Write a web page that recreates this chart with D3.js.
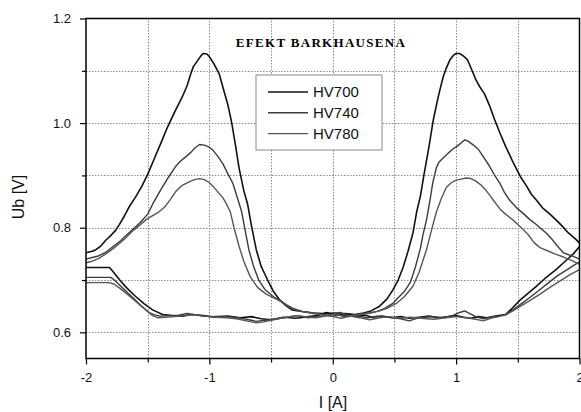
<!DOCTYPE html>
<html>
<head>
<meta charset="utf-8">
<script src="https://cdn.jsdelivr.net/npm/d3@7"></script>
<style>
  body { margin: 0; background: #fff; }
  svg { display: block; }
  text { font-family: "Liberation Sans", Arial, sans-serif; }
</style>
</head>
<body>
<svg id="chart"></svg>
<script>
var width = 581,
    height = 412;

// tick labels
var xTicks = [-2, -1, 0, 1, 2],
    xMinor = [-1.5, -0.5, 0.5, 1.5],
    yTicks = [0.6, 0.8, 1.0, 1.2],
    yMinor = [0.7, 0.9, 1.1];

var seriesNames = ["HV700", "HV740", "HV780"];

// branch A: peak near -1 A, branch B: peak near +1 A
var hv700A = [[-2.00,0.752],[-1.95,0.755],[-1.92,0.758],[-1.88,0.765],[-1.84,0.776],[-1.80,0.785],[-1.76,0.795],[-1.73,0.806],
  [-1.69,0.822],[-1.65,0.840],[-1.60,0.858],[-1.55,0.878],[-1.50,0.902],[-1.45,0.930],[-1.40,0.958],[-1.34,0.992],[-1.28,1.022],
  [-1.22,1.050],[-1.18,1.072],[-1.15,1.095],[-1.13,1.108],[-1.10,1.118],[-1.07,1.128],[-1.05,1.133],[-1.02,1.132],[-1.00,1.127],
  [-0.96,1.112],[-0.92,1.094],[-0.88,1.060],[-0.85,1.035],[-0.82,1.002],[-0.79,0.960],[-0.76,0.915],[-0.72,0.870],[-0.69,0.845],
  [-0.66,0.805],[-0.62,0.758],[-0.58,0.726],[-0.53,0.701],[-0.48,0.678],[-0.43,0.662],[-0.38,0.651],[-0.33,0.643],[-0.25,0.640],
  [-0.16,0.637],[-0.08,0.636],[0.03,0.637],[0.08,0.632],[0.14,0.634],[0.20,0.630],[0.26,0.633],[0.32,0.629],[0.40,0.631],
  [0.48,0.628],[0.55,0.630],[0.62,0.627],[0.70,0.629],[0.78,0.631],[0.86,0.628],[0.94,0.630],[1.00,0.632],[1.06,0.629],
  [1.12,0.627],[1.18,0.630],[1.25,0.628],[1.32,0.631],[1.40,0.634],[1.45,0.645],[1.52,0.662],[1.58,0.674],[1.65,0.688],
  [1.72,0.703],[1.81,0.720],[1.88,0.735],[1.95,0.750],[2.00,0.764]];

var hv700B = [[-2.00,0.724],[-1.90,0.724],[-1.81,0.724],[-1.78,0.716],[-1.73,0.701],[-1.67,0.685],[-1.60,0.669],[-1.53,0.655],
  [-1.46,0.643],[-1.38,0.634],[-1.30,0.632],[-1.22,0.631],[-1.14,0.634],[-1.05,0.632],[-0.95,0.629],[-0.85,0.631],[-0.75,0.628],
  [-0.66,0.630],[-0.58,0.626],[-0.50,0.624],[-0.40,0.629],[-0.30,0.627],[-0.20,0.630],[-0.12,0.632],[-0.05,0.638],[0.02,0.633],
  [0.10,0.636],[0.18,0.634],[0.25,0.637],[0.31,0.641],[0.38,0.650],[0.44,0.664],[0.49,0.682],[0.53,0.700],[0.57,0.724],
  [0.61,0.755],[0.65,0.790],[0.68,0.830],[0.71,0.860],[0.74,0.902],[0.78,0.955],[0.815,1.006],[0.85,1.045],[0.87,1.065],
  [0.896,1.089],[0.92,1.105],[0.95,1.121],[0.98,1.130],[1.00,1.133],[1.03,1.133],[1.06,1.128],[1.09,1.122],[1.13,1.100],
  [1.16,1.083],[1.19,1.070],[1.23,1.056],[1.27,1.034],[1.31,1.008],[1.355,0.981],[1.40,0.956],[1.46,0.926],[1.52,0.898],
  [1.57,0.880],[1.61,0.864],[1.65,0.853],[1.70,0.838],[1.76,0.826],[1.81,0.815],[1.86,0.803],[1.91,0.790],[1.96,0.780],[2.00,0.771]];

var hv740A = [[-2.00,0.740],[-1.95,0.743],[-1.90,0.746],[-1.84,0.753],[-1.78,0.764],[-1.72,0.775],[-1.68,0.784],[-1.62,0.797],
  [-1.56,0.810],[-1.50,0.826],[-1.46,0.845],[-1.42,0.862],[-1.38,0.878],[-1.33,0.897],[-1.28,0.915],[-1.24,0.926],[-1.19,0.936],
  [-1.15,0.944],[-1.12,0.952],[-1.08,0.959],[-1.04,0.958],[-1.00,0.954],[-0.97,0.948],[-0.93,0.936],[-0.89,0.922],[-0.85,0.903],
  [-0.81,0.885],[-0.77,0.855],[-0.74,0.832],[-0.71,0.795],[-0.68,0.758],[-0.64,0.725],[-0.60,0.700],[-0.55,0.682],[-0.48,0.668],
  [-0.43,0.661],[-0.37,0.652],[-0.32,0.646],[-0.25,0.640],[-0.16,0.637],[-0.08,0.634],[0.00,0.631],[0.06,0.633],[0.12,0.630],
  [0.20,0.632],[0.28,0.628],[0.36,0.631],[0.45,0.629],[0.55,0.626],[0.62,0.622],[0.70,0.628],[0.80,0.630],[0.90,0.628],
  [0.98,0.633],[1.03,0.638],[1.07,0.641],[1.11,0.636],[1.16,0.630],[1.22,0.626],[1.28,0.629],[1.34,0.630],[1.40,0.634],
  [1.46,0.643],[1.53,0.655],[1.60,0.667],[1.67,0.680],[1.75,0.695],[1.82,0.708],[1.90,0.720],[1.96,0.729],[2.00,0.735]];

var hv740B = [[-2.00,0.705],[-1.88,0.705],[-1.80,0.705],[-1.77,0.700],[-1.73,0.691],[-1.66,0.675],[-1.60,0.662],[-1.55,0.650],
  [-1.49,0.638],[-1.45,0.634],[-1.40,0.631],[-1.32,0.632],[-1.25,0.633],[-1.18,0.636],[-1.10,0.633],[-1.00,0.630],[-0.90,0.631],
  [-0.80,0.629],[-0.70,0.625],[-0.62,0.621],[-0.55,0.623],[-0.45,0.626],[-0.36,0.629],[-0.28,0.632],[-0.20,0.628],[-0.10,0.630],
  [-0.02,0.634],[0.06,0.638],[0.14,0.632],[0.22,0.635],[0.30,0.637],[0.36,0.640],[0.42,0.646],[0.49,0.656],[0.53,0.666],
  [0.58,0.678],[0.63,0.696],[0.67,0.725],[0.71,0.760],[0.73,0.785],[0.76,0.815],[0.79,0.855],[0.81,0.885],[0.84,0.915],
  [0.86,0.925],[0.88,0.930],[0.92,0.939],[0.97,0.950],[1.01,0.956],[1.04,0.962],[1.07,0.968],[1.10,0.965],[1.14,0.958],
  [1.18,0.950],[1.22,0.936],[1.27,0.918],[1.31,0.901],[1.355,0.885],[1.39,0.868],[1.43,0.854],[1.46,0.846],[1.50,0.836],
  [1.55,0.826],[1.60,0.815],[1.64,0.808],[1.68,0.800],[1.73,0.790],[1.77,0.780],[1.82,0.765],[1.87,0.752],[1.94,0.746],[2.00,0.740]];

var hv780A = [[-2.00,0.733],[-1.95,0.736],[-1.90,0.741],[-1.84,0.750],[-1.78,0.760],[-1.72,0.772],[-1.68,0.780],[-1.62,0.794],
  [-1.56,0.806],[-1.51,0.816],[-1.46,0.823],[-1.41,0.830],[-1.36,0.840],[-1.31,0.856],[-1.27,0.870],[-1.22,0.881],[-1.16,0.888],
  [-1.12,0.892],[-1.08,0.894],[-1.04,0.892],[-1.00,0.886],[-0.97,0.879],[-0.93,0.868],[-0.89,0.857],[-0.865,0.847],[-0.83,0.830],
  [-0.80,0.800],[-0.76,0.765],[-0.72,0.735],[-0.67,0.707],[-0.61,0.686],[-0.54,0.673],[-0.47,0.665],[-0.43,0.660],[-0.37,0.651],
  [-0.32,0.645],[-0.25,0.640],[-0.16,0.636],[-0.08,0.633],[0.00,0.630],[0.07,0.627],[0.14,0.631],[0.22,0.628],[0.30,0.624],
  [0.38,0.628],[0.46,0.630],[0.55,0.627],[0.63,0.629],[0.72,0.627],[0.82,0.625],[0.92,0.628],[1.00,0.630],[1.08,0.628],
  [1.16,0.625],[1.22,0.622],[1.28,0.627],[1.34,0.630],[1.40,0.633],[1.46,0.641],[1.53,0.651],[1.60,0.661],[1.68,0.673],
  [1.76,0.686],[1.84,0.698],[1.92,0.710],[2.00,0.720]];

var hv780B = [[-2.00,0.695],[-1.90,0.695],[-1.81,0.695],[-1.77,0.692],[-1.73,0.685],[-1.68,0.676],[-1.62,0.664],[-1.56,0.652],
  [-1.51,0.642],[-1.46,0.632],[-1.42,0.628],[-1.36,0.629],[-1.28,0.630],[-1.20,0.632],[-1.13,0.634],[-1.05,0.631],[-0.95,0.629],
  [-0.86,0.628],[-0.78,0.626],[-0.70,0.622],[-0.62,0.618],[-0.56,0.620],[-0.48,0.624],[-0.40,0.628],[-0.30,0.632],[-0.22,0.630],
  [-0.14,0.628],[-0.06,0.631],[0.02,0.635],[0.09,0.630],[0.17,0.633],[0.25,0.635],[0.32,0.638],[0.38,0.641],[0.44,0.646],
  [0.52,0.656],[0.58,0.668],[0.65,0.688],[0.70,0.715],[0.76,0.758],[0.80,0.795],[0.84,0.830],[0.88,0.856],[0.92,0.877],
  [0.96,0.886],[1.00,0.891],[1.04,0.893],[1.08,0.895],[1.12,0.894],[1.16,0.889],[1.20,0.882],[1.24,0.872],[1.28,0.860],
  [1.30,0.853],[1.355,0.836],[1.40,0.826],[1.46,0.815],[1.52,0.802],[1.58,0.788],[1.63,0.772],[1.68,0.762],[1.74,0.756],
  [1.80,0.750],[1.87,0.744],[1.93,0.738],[2.00,0.730]];

var series = [
  {name: seriesNames[0], color: "#111", width: 1.6, branches: [hv700A, hv700B]},
  {name: seriesNames[1], color: "#3c3c3c", width: 1.4, branches: [hv740A, hv740B]},
  {name: seriesNames[2], color: "#575757", width: 1.4, branches: [hv780A, hv780B]}
];

var margin = {left: 86, top: 18.5, right: 1.5, bottom: 53.5};

var x = d3.scaleLinear()
    .domain([-2, 2])
    .range([margin.left, width - margin.right]);

var y = d3.scaleLinear()
    .domain([0.55, 1.2])
    .range([height - margin.bottom, margin.top]);

var svg = d3.select("#chart")
    .attr("width", width)
    .attr("height", height);

// dotted grid
var grid = svg.append("g")
    .attr("stroke", "#8a8a8a")
    .attr("stroke-width", 1)
    .attr("stroke-dasharray", "1.5,1.5");

grid.selectAll(".gx")
    .data(xTicks.concat(xMinor).filter(function(d) { return d > -2 && d < 2; }))
  .enter().append("line")
    .attr("x1", function(d) { return Math.round(x(d)) + 0.5; })
    .attr("x2", function(d) { return Math.round(x(d)) + 0.5; })
    .attr("y1", y(0.55))
    .attr("y2", y(1.2));

grid.selectAll(".gy")
    .data(yTicks.concat(yMinor).filter(function(d) { return d < 1.2; }))
  .enter().append("line")
    .attr("y1", function(d) { return Math.round(y(d)) + 0.5; })
    .attr("y2", function(d) { return Math.round(y(d)) + 0.5; })
    .attr("x1", x(-2))
    .attr("x2", x(2));

// axes
svg.append("g")
    .attr("transform", "translate(0," + y(0.55) + ")")
    .call(d3.axisBottom(x).tickValues(xTicks).tickSize(6).tickPadding(8)
        .tickFormat(function(d) { return String(d); }));

svg.append("g")
    .attr("transform", "translate(0," + y(0.55) + ")")
    .call(d3.axisBottom(x).tickValues(xMinor).tickSize(4).tickFormat(""));

svg.append("g")
    .attr("transform", "translate(" + x(-2) + ",0)")
    .call(d3.axisLeft(y).tickValues(yTicks).tickSize(6).tickPadding(9)
        .tickFormat(d3.format(".1f")));

svg.append("g")
    .attr("transform", "translate(" + x(-2) + ",0)")
    .call(d3.axisLeft(y).tickValues(yMinor).tickSize(4).tickFormat(""));

svg.selectAll(".domain").remove();
svg.selectAll(".tick line").attr("stroke", "#000").attr("stroke-width", 1.2);
svg.selectAll(".tick text")
    .attr("font-family", "Liberation Sans, Arial, sans-serif")
    .attr("font-size", 13)
    .attr("fill", "#111");

// curves
var line = d3.line()
    .x(function(d) { return x(d[0]); })
    .y(function(d) { return y(d[1]); });

var curves = svg.append("g").attr("fill", "none");

series.forEach(function(s) {
  curves.selectAll(null)
      .data(s.branches)
    .enter().append("path")
      .attr("d", line)
      .attr("stroke", s.color)
      .attr("stroke-width", s.width)
      .attr("stroke-linejoin", "round");
});

// frame
svg.append("rect")
    .attr("x", x(-2))
    .attr("y", y(1.2))
    .attr("width", x(2) - x(-2))
    .attr("height", y(0.55) - y(1.2))
    .attr("fill", "none")
    .attr("stroke", "#000")
    .attr("stroke-width", 1.5);

// title
svg.append("text")
    .attr("x", 321)
    .attr("y", 47)
    .attr("text-anchor", "middle")
    .style("font-family", "Liberation Serif, Times New Roman, serif")
    .style("font-weight", "bold")
    .style("font-size", "13px")
    .style("letter-spacing", "1.3px")
    .text("EFEKT BARKHAUSENA");

// legend
var legend = svg.append("g").attr("transform", "translate(256,75)");

legend.append("rect")
    .attr("width", 126)
    .attr("height", 75)
    .attr("fill", "#fff")
    .attr("stroke", "#8a8a8a")
    .attr("stroke-width", 1);

var item = legend.selectAll(".item")
    .data(series)
  .enter().append("g")
    .attr("transform", function(d, i) { return "translate(0," + (17 + i * 20.8) + ")"; });

item.append("line")
    .attr("x1", 12)
    .attr("x2", 52)
    .attr("stroke", function(d) { return d.color; })
    .attr("stroke-width", function(d) { return d.width; });

item.append("text")
    .attr("x", 57)
    .attr("dy", "0.36em")
    .style("font-size", "15px")
    .attr("fill", "#111")
    .text(function(d) { return d.name; });

// axis titles
svg.append("text")
    .attr("transform", "translate(24,197) rotate(-90)")
    .attr("text-anchor", "middle")
    .style("font-size", "16px")
    .attr("fill", "#111")
    .text("Ub [V]");

svg.append("text")
    .attr("x", 333)
    .attr("y", 408)
    .attr("text-anchor", "middle")
    .style("font-size", "16px")
    .attr("fill", "#111")
    .text("I [A]");
</script>
</body>
</html>
